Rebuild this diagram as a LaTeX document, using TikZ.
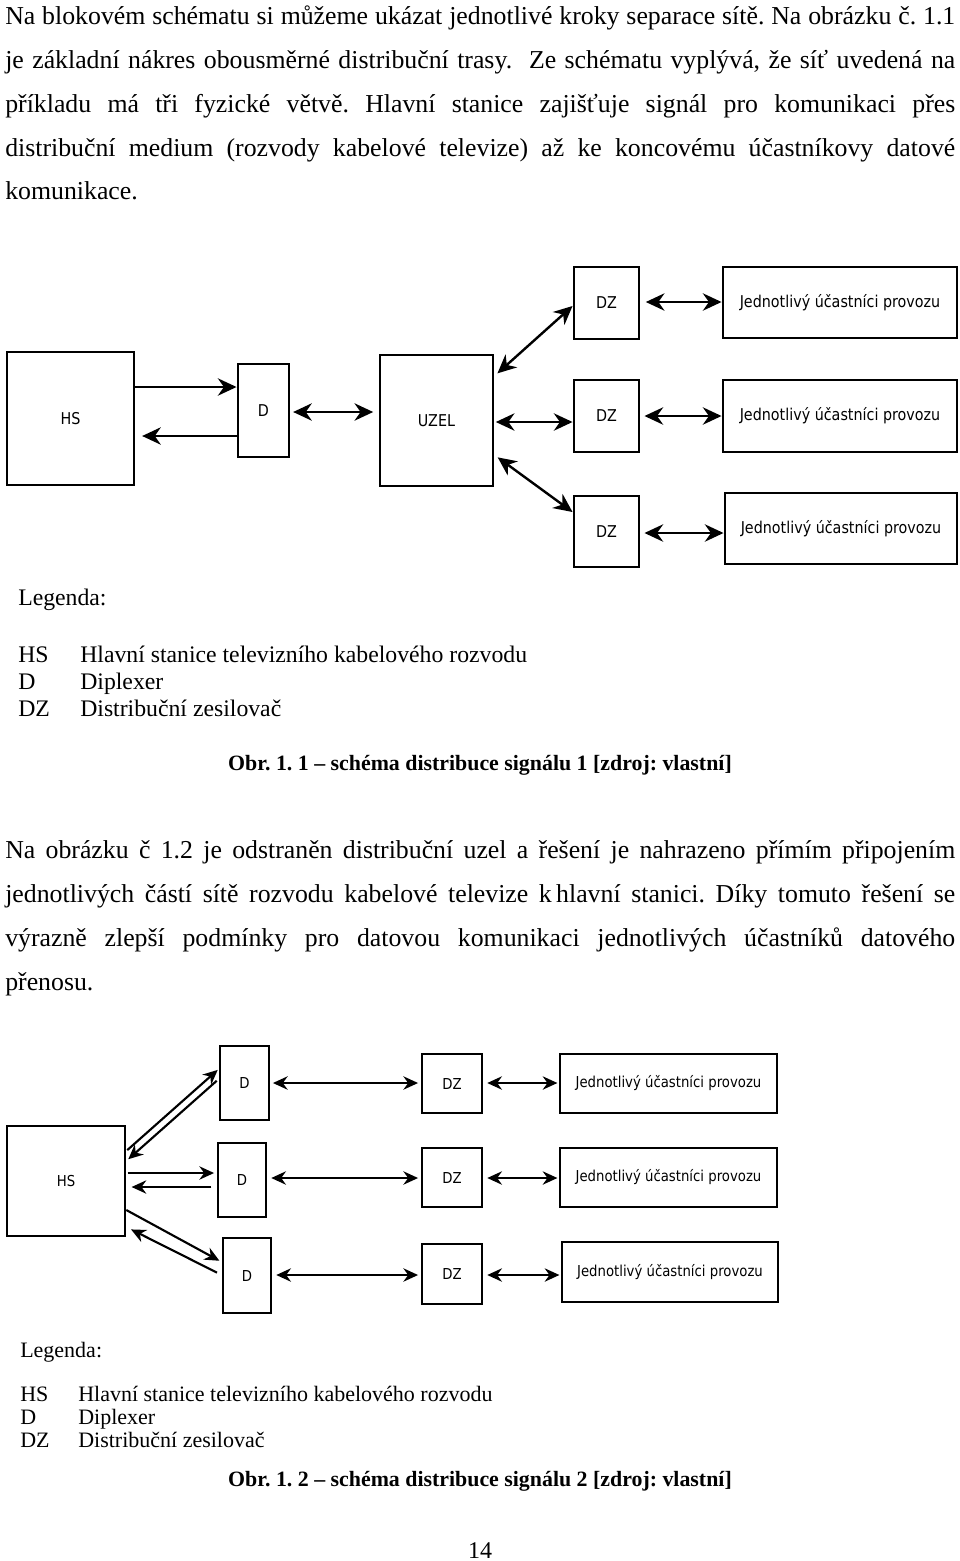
\documentclass[tikz,border=0pt]{standalone}
\usepackage{fontspec}
\setmainfont{Liberation Serif}
\newfontfamily\diagfont[FakeStretch=0.88]{DejaVu Sans}
\usetikzlibrary{arrows.meta,calc}
\newcommand\jl[1]{\makebox[712.5pt][s]{#1}}
\frenchspacing
\begin{document}
\begin{tikzpicture}[x=0.75pt,y=-0.75pt,
  bodyt/.style={anchor=base west, inner sep=0pt, font=\fontsize{19.35pt}{23pt}\selectfont},
  capt/.style={anchor=base, inner sep=0pt, font=\bfseries\fontsize{16.4pt}{19pt}\selectfont},
  legA/.style={anchor=base west, inner sep=0pt, font=\fontsize{17.8pt}{20pt}\selectfont},
  legB/.style={anchor=base west, inner sep=0pt, font=\fontsize{16.5pt}{19pt}\selectfont},
  sz/.style 2 args={minimum width=#1*0.75pt, minimum height=#2*0.75pt},
  boxA/.style={draw, line width=2.2pt, inner sep=0pt, font=\diagfont\fontsize{12.2pt}{14pt}\selectfont},
  boxB/.style={draw, line width=1.9pt, inner sep=0pt, font=\diagfont\fontsize{11.3pt}{13pt}\selectfont},
  aA/.style={line width=1.8pt, -{Stealth[length=14pt,width=13pt]}},
  bA/.style={line width=1.8pt, {Stealth[length=14pt,width=13pt]}-{Stealth[length=14pt,width=13pt]}},
  aB/.style={line width=1.6pt, -{Stealth[length=11pt,width=10pt]}},
  bB/.style={line width=1.6pt, {Stealth[length=11pt,width=10pt]}-{Stealth[length=11pt,width=10pt]}}
]
\useasboundingbox (0,0) rectangle (960,1561);
\fill[white] (0,0) rectangle (960,1561);

% paragraph 1
\node[bodyt] (p1) at (5,24) {\jl{Na blokovém schématu si můžeme ukázat jednotlivé kroky separace sítě. Na obrázku č. 1.1}};
\node[bodyt] (p2) at (5,68) {\jl{je základní nákres obousměrné distribuční trasy.\ \ Ze schématu vyplývá, že síť uvedená na}};
\node[bodyt] (p3) at (5,112) {\jl{příkladu má tři fyzické větvě. Hlavní stanice zajišťuje signál pro komunikaci přes}};
\node[bodyt] (p4) at (5,156) {\jl{distribuční medium (rozvody kabelové televize) až ke koncovému účastníkovy datové}};
\node[bodyt] (p5) at (5,199) {komunikace.};

% diagram 1
\node[boxA, sz={127}{133}] (hs1) at (70.5,418.5) {HS};
\node[boxA, sz={51}{93}] (d1) at (263.5,410.5) {D};
\node[boxA, sz={113}{131}] (uzel) at (436.5,420.5) {UZEL};
\node[boxA, sz={65}{72}] (dza) at (606.5,303) {DZ};
\node[boxA, sz={65}{72}] (dzb) at (606.5,416) {DZ};
\node[boxA, sz={65}{71}] (dzc) at (606.5,531.5) {DZ};
\node[boxA, sz={234}{71}] (ua) at (840,302.5) {Jednotlivý účastníci provozu};
\node[boxA, sz={234}{72}] (ub) at (840,416) {Jednotlivý účastníci provozu};
\node[boxA, sz={232}{71}] (uc) at (841,528.5) {Jednotlivý účastníci provozu};

\draw[aA] (hs1.east |- 0,387) -- (d1.west |- 0,387);
\draw[aA, shorten >=5pt] (d1.west |- 0,436) -- (hs1.east |- 0,436);
\draw[bA, shorten <=2pt, shorten >=4pt] (d1.east |- 0,412) -- (uzel.west |- 0,412);
\draw[bA, shorten <=3pt] (uzel.east |- 0,376) -- (dza.west |- 0,306);
\draw[bA, shorten <=1pt] (uzel.east |- 0,422) -- (dzb.west |- 0,422);
\draw[bA, shorten <=3pt] (uzel.east |- 0,455) -- (dzc.west |- 0,512);
\draw[bA, shorten <=4pt] (dza.east |- 0,302) -- (ua.west |- 0,302);
\draw[bA, shorten <=3pt] (dzb.east |- 0,416) -- (ub.west |- 0,416);
\draw[bA, shorten <=3pt] (dzc.east |- 0,533) -- (uc.west |- 0,533);

% legend 1
\node[legA] (lg1) at (18,605) {Legenda:};
\node[legA] (lg1a) at (18,662) {HS};
\node[legA] (lg1at) at (80,662) {Hlavní stanice televizního kabelového rozvodu};
\node[legA] (lg1b) at (18,689) {D};
\node[legA] (lg1bt) at (80,689) {Diplexer};
\node[legA] (lg1c) at (18,716) {DZ};
\node[legA] (lg1ct) at (80,716) {Distribuční zesilovač};

\node[capt] (c1) at (480,770) {Obr. 1. 1 – schéma distribuce signálu 1 [zdroj: vlastní]};

% paragraph 2
\node[bodyt] (q1) at (5,858) {\jl{Na obrázku č 1.2 je odstraněn distribuční uzel a řešení je nahrazeno přímím připojením}};
\node[bodyt] (q2) at (5,902) {\jl{jednotlivých částí sítě rozvodu kabelové televize k\,hlavní stanici. Díky tomuto řešení se}};
\node[bodyt] (q3) at (5,946) {\jl{výrazně zlepší podmínky pro datovou komunikaci jednotlivých účastníků datového}};
\node[bodyt] (q4) at (5,990) {přenosu.};

% diagram 2
\node[boxB, sz={118}{110}] (hs2) at (66,1181) {HS};
\node[boxB, sz={49}{74}] (da) at (244.5,1083) {D};
\node[boxB, sz={48}{74}] (db) at (242,1180) {D};
\node[boxB, sz={48}{75}] (dc) at (247,1275.5) {D};
\node[boxB, sz={60}{59}] (za) at (452,1083.5) {DZ};
\node[boxB, sz={60}{59}] (zb) at (452,1177.5) {DZ};
\node[boxB, sz={60}{60}] (zc) at (452,1274) {DZ};
\node[boxB, sz={217}{59}] (pa) at (668.5,1083.5) {Jednotlivý účastníci provozu};
\node[boxB, sz={217}{59}] (pb) at (668.5,1177.5) {Jednotlivý účastníci provozu};
\node[boxB, sz={216}{60}] (pc) at (670,1272) {Jednotlivý účastníci provozu};

\draw[aB, shorten <=1pt, shorten >=1pt] (hs2.east |- 0,1151) -- (da.west |- 0,1069);
\draw[aB, shorten <=2pt, shorten >=2pt] (da.west |- 0,1079) -- (hs2.east |- 0,1161);
\draw[aB, shorten <=1pt, shorten >=2pt] (hs2.east |- 0,1173) -- (db.west |- 0,1173);
\draw[aB, shorten <=4pt, shorten >=4pt] (db.west |- 0,1187) -- (hs2.east |- 0,1187);
\draw[aB, shorten >=2pt] (hs2.east |- 0,1210) -- (dc.west |- 0,1262);
\draw[aB, shorten <=4pt, shorten >=4pt] (dc.west |- 0,1275) -- (hs2.east |- 0,1227);
\draw[bB, shorten <=2pt, shorten >=2pt] (da.east |- 0,1083) -- (za.west |- 0,1083);
\draw[bB, shorten <=3pt, shorten >=2pt] (db.east |- 0,1178) -- (zb.west |- 0,1178);
\draw[bB, shorten <=3pt, shorten >=2pt] (dc.east |- 0,1275) -- (zc.west |- 0,1275);
\draw[bB, shorten <=3pt, shorten >=1pt] (za.east |- 0,1083) -- (pa.west |- 0,1083);
\draw[bB, shorten <=3pt, shorten >=1pt] (zb.east |- 0,1178) -- (pb.west |- 0,1178);
\draw[bB, shorten <=3pt, shorten >=1pt] (zc.east |- 0,1275) -- (pc.west |- 0,1275);

% legend 2
\node[legB] (lg2) at (20,1357) {Legenda:};
\node[legB] (lg2a) at (20,1401) {HS};
\node[legB] (lg2at) at (78,1401) {Hlavní stanice televizního kabelového rozvodu};
\node[legB] (lg2b) at (20,1424) {D};
\node[legB] (lg2bt) at (78,1424) {Diplexer};
\node[legB] (lg2c) at (20,1447) {DZ};
\node[legB] (lg2ct) at (78,1447) {Distribuční zesilovač};

\node[capt] (c2) at (480,1486) {Obr. 1. 2 – schéma distribuce signálu 2 [zdroj: vlastní]};

\node[anchor=base, inner sep=0pt, font=\fontsize{18pt}{20pt}\selectfont] (pg) at (480,1558) {14};
\end{tikzpicture}
\end{document}
